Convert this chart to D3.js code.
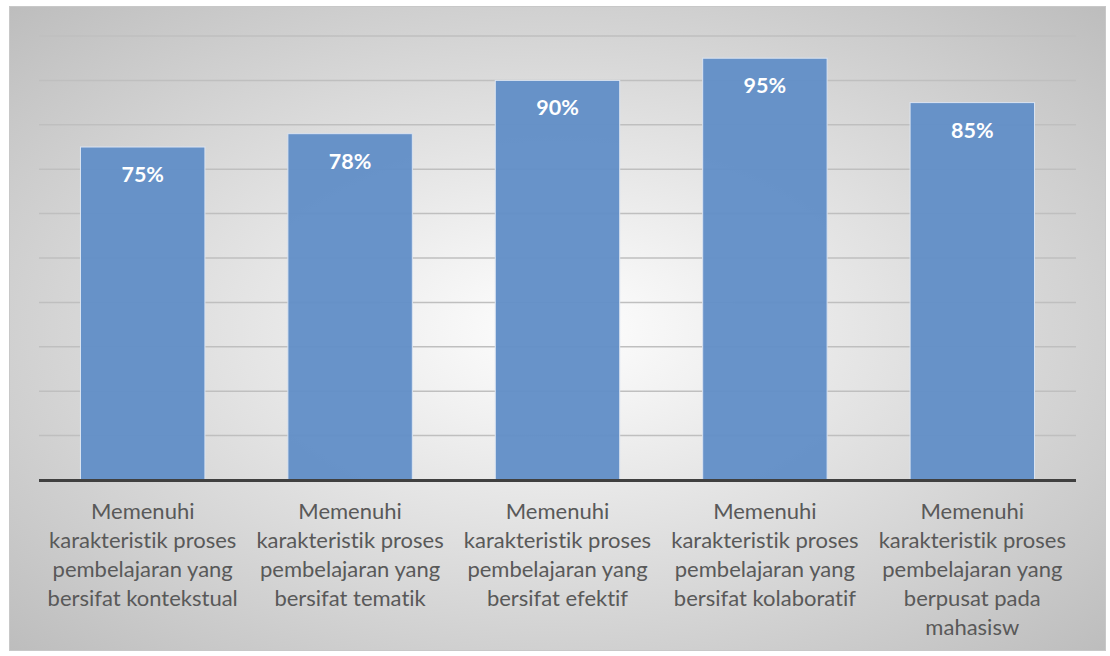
<!DOCTYPE html>
<html><head><meta charset="utf-8">
<script src="https://cdn.jsdelivr.net/npm/d3@7"></script>
<style>html,body{margin:0;padding:0;background:#fff;}svg{display:block;} text{font-variant-ligatures:none;}</style>
</head><body>
<svg id="chart" width="1110" height="656"></svg>
<script>
const categories = [
  "Memenuhi\nkarakteristik proses\npembelajaran yang\nbersifat kontekstual",
  "Memenuhi\nkarakteristik proses\npembelajaran yang\nbersifat tematik",
  "Memenuhi\nkarakteristik proses\npembelajaran yang\nbersifat efektif",
  "Memenuhi\nkarakteristik proses\npembelajaran yang\nbersifat kolaboratif",
  "Memenuhi\nkarakteristik proses\npembelajaran yang\nberpusat pada\nmahasisw"
];
const values = [0.75, 0.78, 0.90, 0.95, 0.85];
const gridTicks = [0.1, 0.2, 0.3, 0.4, 0.5, 0.6, 0.7, 0.8, 0.9, 1.0];

const svg = d3.select("#chart");
const defs = svg.append("defs");
const rg = defs.append("radialGradient").attr("id","bg")
  .attr("cx","50%").attr("cy","50%").attr("r","75%");
rg.append("stop").attr("offset","0%").attr("stop-color","#ffffff");
rg.append("stop").attr("offset","100%").attr("stop-color","#b9b9b9");

svg.append("rect").attr("x",9.5).attr("y",6.5).attr("width",1096).attr("height",644)
  .attr("fill","url(#bg)").attr("stroke","#c8c8c8").attr("stroke-width",1);

const m = {left:39, right:1076, top:36, bottom:480};
const x = d3.scaleBand().domain(d3.range(categories.length)).range([m.left, m.right]).paddingInner(0.4).paddingOuter(0.2);
const y = d3.scaleLinear().domain([0,1]).range([m.bottom, m.top]);

svg.append("g").selectAll("line").data(gridTicks).join("line")
  .attr("x1",m.left).attr("x2",m.right)
  .attr("y1",d=>y(d)).attr("y2",d=>y(d))
  .attr("stroke","#bfbfbf").attr("stroke-width",1.5);

svg.append("g").selectAll("rect").data(values).join("rect")
  .attr("x",(d,i)=>x(i)).attr("width",x.bandwidth())
  .attr("y",d=>y(d)).attr("height",d=>y(0)-y(d))
  .attr("fill","#6390c7").attr("fill-opacity",0.97)
  .attr("stroke","#dbe4f1").attr("stroke-width",1);

svg.append("g").selectAll("text").data(values).join("text")
  .attr("x",(d,i)=>x(i)+x.bandwidth()/2).attr("y",d=>y(d)+35)
  .attr("text-anchor","middle")
  .attr("font-family","Lato, 'Open Sans', sans-serif").attr("font-weight","bold")
  .attr("font-size",21.5).attr("fill","#ffffff")
  .text(d=>d3.format(".0%")(d));

svg.append("line").attr("x1",m.left).attr("x2",m.right)
  .attr("y1",y(0)+0.5).attr("y2",y(0)+0.5).attr("stroke","#404040").attr("stroke-width",3);

const lab = svg.append("g").selectAll("text").data(categories).join("text")
  .attr("text-anchor","middle")
  .attr("font-family","Lato, 'Open Sans', sans-serif")
  .attr("font-size",22).attr("fill","#595959");
lab.each(function(d,i){
  const t = d3.select(this);
  d.split("\n").forEach((ln,j)=>{
    t.append("tspan").attr("x",x(i)+x.bandwidth()/2).attr("y",518.5+j*29).text(ln);
  });
});
</script>
</body></html>
